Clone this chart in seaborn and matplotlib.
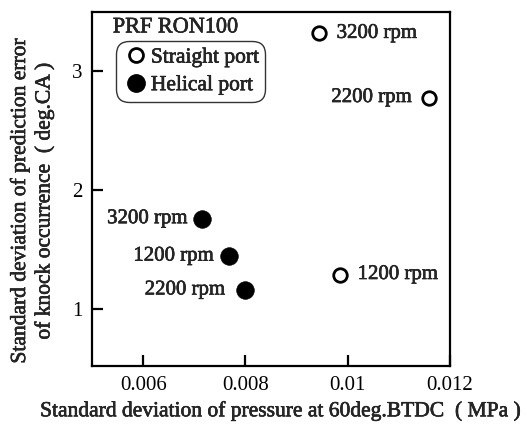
import matplotlib
matplotlib.use("Agg")
import matplotlib.pyplot as plt
import matplotlib.patheffects as pe
import seaborn as sns
import pandas as pd
from matplotlib.lines import Line2D

# Measured points
straight_x = [0.00943, 0.01158, 0.00984]
straight_y = [3.32, 2.78, 1.29]
straight_rpm = ["3200 rpm", "2200 rpm", "1200 rpm"]

helical_x = [0.00716, 0.00767, 0.00799]
helical_y = [1.76, 1.445, 1.16]
helical_rpm = ["3200 rpm", "1200 rpm", "2200 rpm"]

port_names = ["Straight port", "Helical port"]

x_ticks = [0.006, 0.008, 0.01, 0.012]
x_ticklabels = ["0.006", "0.008", "0.01", "0.012"]
y_ticks = [1, 2, 3]
y_ticklabels = ["1", "2", "3"]

sns.set_theme(style="ticks")
plt.rcParams["font.family"] = ["Liberation Serif", "DejaVu Serif"]

# slightly heavier strokes on the larger text
heavy = [pe.withStroke(linewidth=0.4, foreground="black")]

df = pd.DataFrame({
    "x": straight_x + helical_x,
    "y": straight_y + helical_y,
    "rpm": straight_rpm + helical_rpm,
    "port": [port_names[0]] * 3 + [port_names[1]] * 3,
})

fig = plt.figure(figsize=(5.27, 4.29), dpi=100)
ax = fig.add_axes([0.1746, 0.1469, 0.854 - 0.1746, 0.972 - 0.1469])

s_df = df[df.port == port_names[0]]
h_df = df[df.port == port_names[1]]
sns.scatterplot(data=s_df, x="x", y="y", ax=ax, s=95, marker="o",
                facecolor="white", edgecolor="black", linewidth=2.0, zorder=3)
sns.scatterplot(data=h_df, x="x", y="y", ax=ax, s=160, marker="o",
                color="black", edgecolor="black", linewidth=0.5, zorder=3)

# Point labels: right side (+) or left side (-)
offsets = {
    (port_names[0], "3200 rpm"): 18,
    (port_names[0], "2200 rpm"): -17,
    (port_names[0], "1200 rpm"): 18,
    (port_names[1], "3200 rpm"): -15,
    (port_names[1], "1200 rpm"): -15,
    (port_names[1], "2200 rpm"): -20,
}
for _, r in df.iterrows():
    dx = offsets[(r.port, r.rpm)]
    ax.annotate(r.rpm, (r.x, r.y), xytext=(dx, 0), textcoords="offset pixels",
                ha="left" if dx > 0 else "right", va="center", fontsize=15,
                path_effects=heavy)

ax.set_xlim(0.005, 0.012)
ax.set_ylim(0.52, 3.5)
ax.set_xticks(x_ticks)
ax.set_yticks(y_ticks)
ax.set_xticklabels(x_ticklabels, fontfamily="Liberation Serif", fontsize=15)
ax.set_yticklabels(y_ticklabels, fontfamily="Liberation Serif", fontsize=15)
ax.tick_params(direction="in", length=8, width=1.6, pad=7, colors="black")
for sp in ax.spines.values():
    sp.set_linewidth(1.6)
    sp.set_color("black")
    sp.set_visible(True)

ax.set_xlabel("Standard deviation of pressure at 60deg.BTDC  ( MPa )",
              fontsize=15.5, labelpad=6, path_effects=heavy)
ax.set_ylabel("Standard deviation of prediction error\nof knock occurrence  ( deg.CA )",
              fontsize=15.5, labelpad=8, linespacing=1.3, path_effects=heavy)
ax.xaxis.set_label_coords(0.525, -0.10)
ax.yaxis.set_label_coords(-0.105, 0.466)

handles = [
    Line2D([], [], marker="o", linestyle="none", markersize=10,
           markerfacecolor="white", markeredgecolor="black", markeredgewidth=2.0),
    Line2D([], [], marker="o", linestyle="none", markersize=12.5,
           markerfacecolor="black", markeredgecolor="black"),
]
leg = ax.legend(handles, port_names, loc="upper left",
                bbox_to_anchor=(0.068, 0.918), fontsize=15.5, frameon=True,
                fancybox=True, edgecolor="black", handletextpad=0.1,
                handlelength=1.2, borderpad=0.3, labelspacing=0.35,
                borderaxespad=0)
for t in leg.get_texts():
    t.set_path_effects(heavy)
leg.get_frame().set_linewidth(1.0)
leg.get_frame().set_boxstyle("round", pad=0.0, rounding_size=0.6)
ax.text(0.058, 0.955, "PRF RON100", transform=ax.transAxes, fontsize=16,
        ha="left", va="center", path_effects=heavy)

fig.savefig("out.png", dpi=100)
